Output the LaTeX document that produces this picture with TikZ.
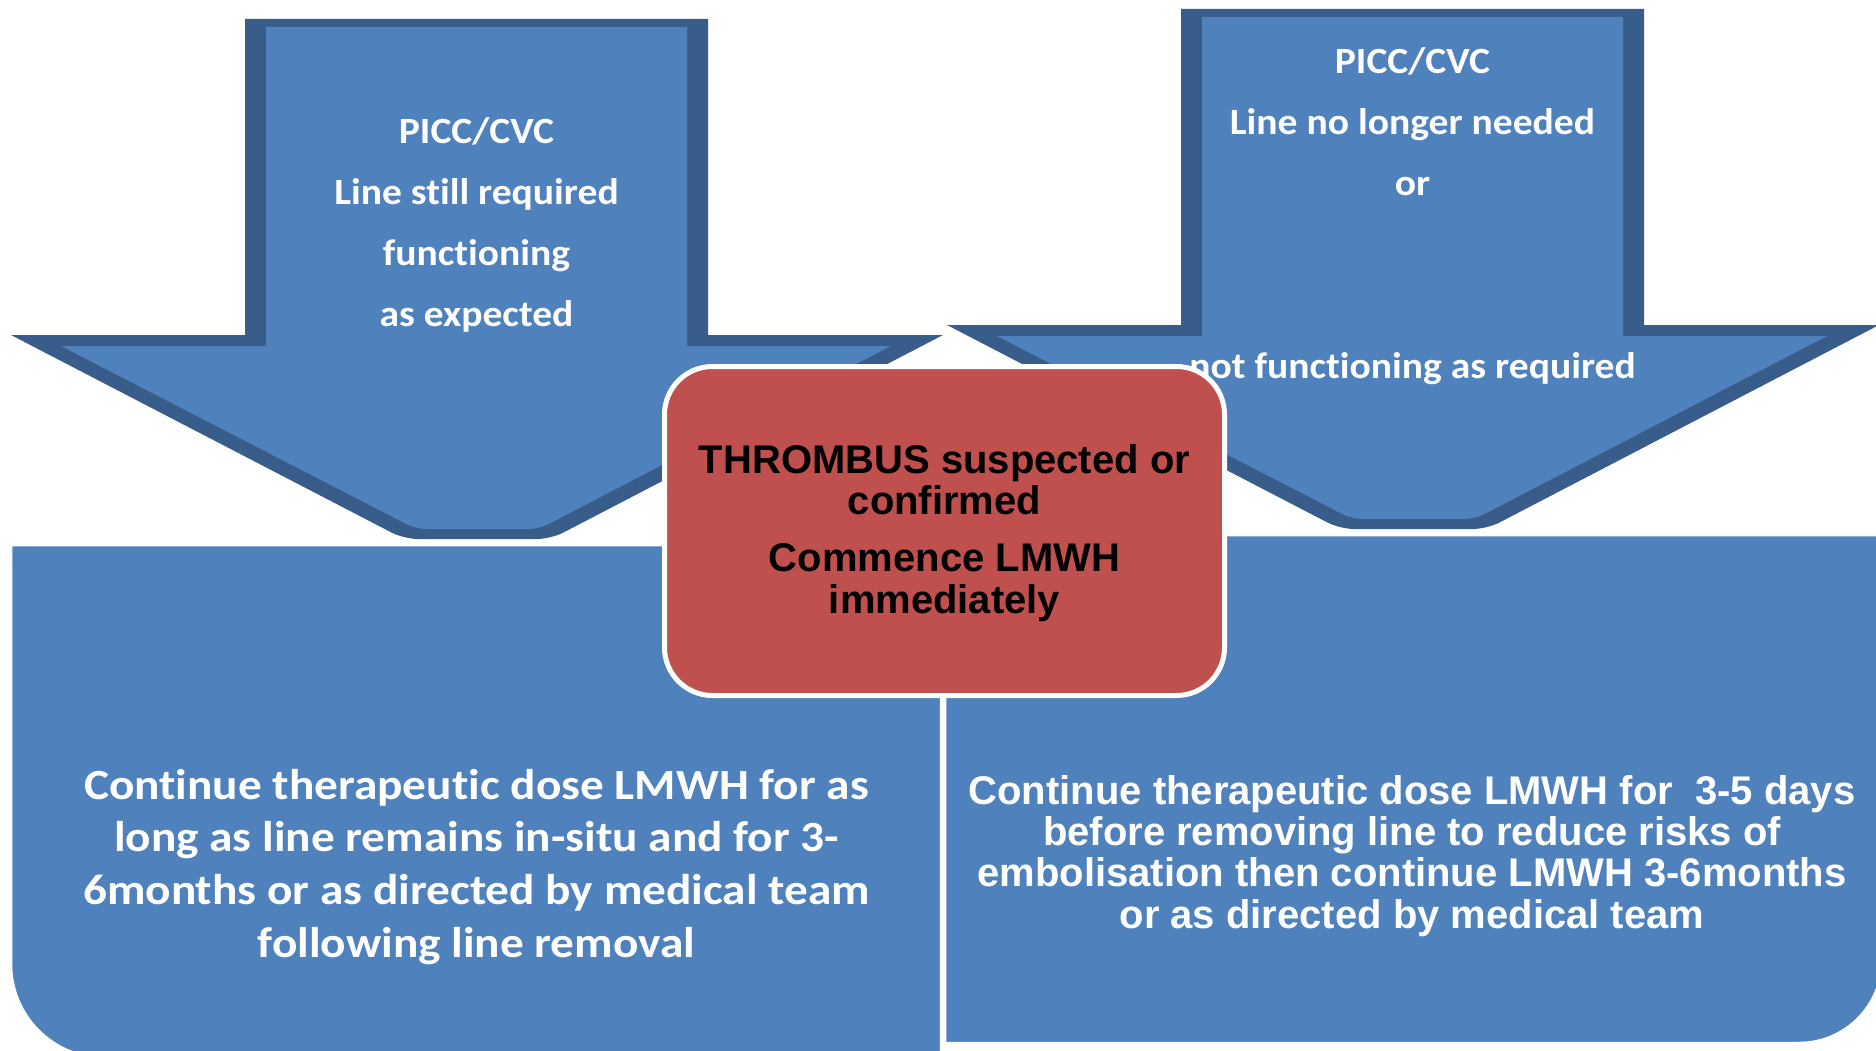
\documentclass[tikz,border=0pt]{standalone}
\usepackage{fontspec}
\newfontfamily\calfont[FakeStretch=1.07,Ligatures=NoCommon]{Carlito}
\newfontfamily\calwide[FakeStretch=1.1,Ligatures=NoCommon]{Carlito}
\newfontfamily\arfont{Liberation Sans}
\definecolor{arrowfill}{HTML}{4F81BD}
\definecolor{arrowedge}{HTML}{385D8A}
\definecolor{redfill}{HTML}{C0504D}
\newcommand\txtstack[1]{\begin{tabular}[t]{@{}c@{}}#1\end{tabular}}
\begin{document}
\begin{tikzpicture}[x=1pt,y=-1pt,
  arrowouter/.style={fill=arrowedge},
  arrowinner/.style={fill=arrowfill},
  bluebox/.style={fill=arrowfill, draw=white, line width=2.5pt},
  redbox/.style={draw=white, line width=5pt, fill=redfill, rounded corners=48pt,
    minimum width=560pt, minimum height=329pt, inner sep=0pt},
  arrowtxt/.style={text=white, inner sep=0pt, anchor=base,
    font=\calfont\bfseries\fontsize{37}{61}\selectfont},
  lefttxt/.style={text=white, inner sep=0pt, anchor=base,
    font=\calwide\bfseries\fontsize{43}{52.7}\selectfont},
  righttxt/.style={text=white, inner sep=0pt, anchor=base,
    font=\arfont\bfseries\fontsize{40}{41.3}\selectfont},
  redtxt/.style={text=black, inner sep=0pt, anchor=base,
    font=\arfont\bfseries\fontsize{40}{41.5}\selectfont}
]
\useasboundingbox (0,0) rectangle (1876,1051);
\fill[white] (0,0) rectangle (1876,1051);

% left arrow
\begin{scope}
  \path[arrowouter] (245,19) -- (708,19) -- (708,335) -- (943,335)
     [rounded corners=14] -- (551,539) -- (404,539) [sharp corners] -- (11,335) -- (245,335) -- cycle;
  \path[arrowinner] (266,27) -- (687,27) -- (687,346) -- (891,346)
     [rounded corners=10] -- (539,529) -- (416,529) [sharp corners] -- (61,346) -- (266,346) -- cycle;
\end{scope}
% right arrow
\begin{scope}[shift={(936,-10)}]
  \path[arrowouter] (245,19) -- (708,19) -- (708,335) -- (943,335)
     [rounded corners=14] -- (551,539) -- (404,539) [sharp corners] -- (11,335) -- (245,335) -- cycle;
  \path[arrowinner] (266,27) -- (687,27) -- (687,346) -- (891,346)
     [rounded corners=10] -- (539,529) -- (416,529) [sharp corners] -- (61,346) -- (266,346) -- cycle;
\end{scope}

% bottom boxes
\path[bluebox] (11,545) -- (941,545) -- (941,1058) -- (105,1058)
   arc[start angle=90, end angle=180, radius=94] -- cycle;
\path[bluebox] (945,535) -- (1882,535) -- (1882,960)
   arc[start angle=0, end angle=90, radius=83] -- (945,1043) -- cycle;

% arrow texts
\node[arrowtxt] (lefthead) at (476.5,144)
  {\txtstack{PICC/CVC\\Line still required\\functioning\\as expected}};
\node[arrowtxt] (righthead) at (1412.5,74)
  {\txtstack{PICC/CVC\\Line no longer needed\\or\\ \\ \\not functioning as required}};

% box texts
\node[lefttxt] (leftbody) at (476.5,799)
  {\txtstack{Continue therapeutic dose LMWH for as\\long as line remains in-situ and for 3-\\6months or as directed by medical team\\following line removal}};
\node[righttxt] (rightbody) at (1412,804)
  {\txtstack{Continue therapeutic dose LMWH for\ \ 3-5 days\\before removing line to reduce risks of\\embolisation then continue LMWH 3-6months\\or as directed by medical team}};

% central red box
\node[redbox] (thrombus) at (944.5,531) {};
\node[redtxt] (thrombustxt) at (944.5,473)
  {\txtstack{THROMBUS suspected or\\confirmed\\[15.5pt]Commence LMWH\\immediately}};
\end{tikzpicture}
\end{document}
